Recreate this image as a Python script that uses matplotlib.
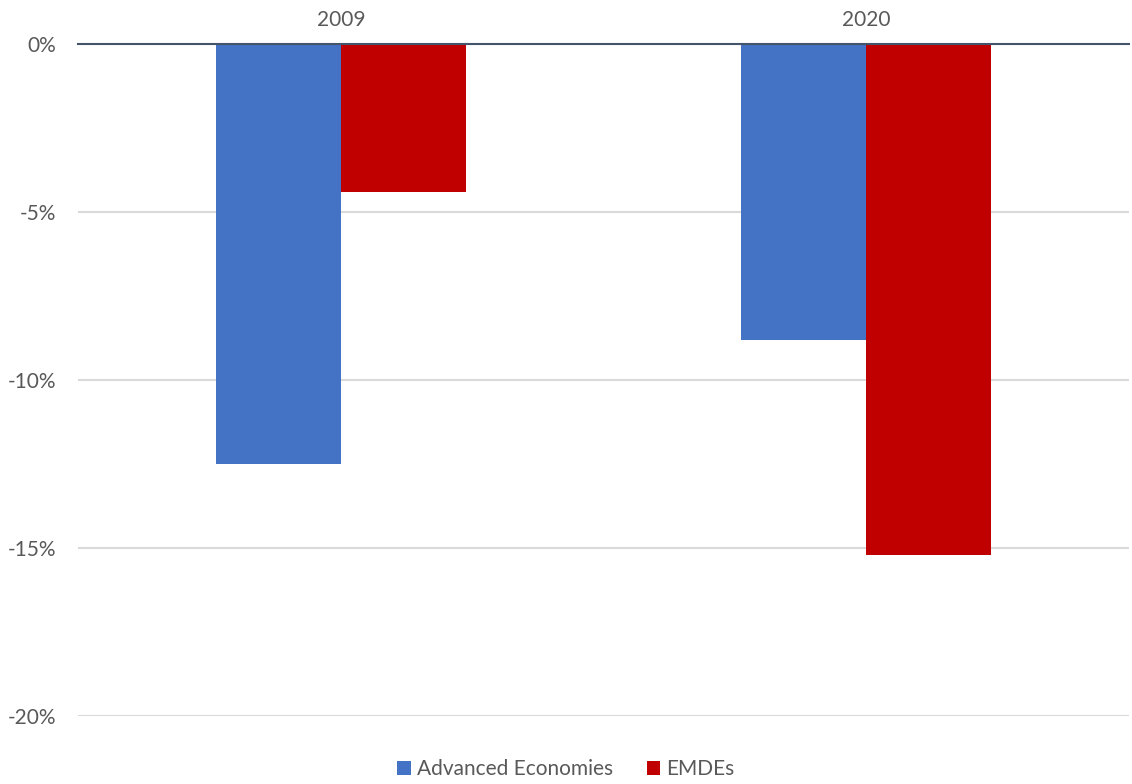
import matplotlib.pyplot as plt
import numpy as np

# Data
years = ["2009", "2020"]
advanced = [-12.5, -8.8]
emdes = [-4.4, -15.2]
yticks = [0, -5, -10, -15, -20]

plt.rcParams["font.family"] = ["Lato", "DejaVu Sans"]

fig = plt.figure(figsize=(11.32, 7.84), dpi=100)
ax = fig.add_axes([78 / 1132, 68 / 784, 1051 / 1132, 672 / 784])

x = np.arange(len(years))
w = 0.238
ax.bar(x - w / 2, advanced, width=w, color="#4472C4", label="Advanced Economies")
ax.bar(x + w / 2, emdes, width=w, color="#C00000", label="EMDEs")

ax.set_xlim(-0.5, 1.5)
ax.set_ylim(-20, 0)
ax.set_yticks(yticks)
ax.set_yticklabels([f"{t}%" for t in yticks])

# category labels on top
ax.xaxis.tick_top()
ax.set_xticks(x)
ax.set_xticklabels(years)
ax.tick_params(axis="x", length=0, pad=10, labelsize=15, labelcolor="#595959")
ax.tick_params(axis="y", length=0, pad=16, labelsize=15, labelcolor="#595959")

# grid lines and zero axis
ax.grid(axis="y", color="#D9D9D9", linewidth=1.5)
ax.set_axisbelow(True)
for s in ["left", "right", "bottom"]:
    ax.spines[s].set_visible(False)
ax.spines["top"].set_color("#44546A")
ax.spines["top"].set_linewidth(1.5)

fig.legend(loc="center", bbox_to_anchor=(0.5, 0.019), ncol=2, frameon=False,
           fontsize=15, labelcolor="#595959", handlelength=0.65, handleheight=0.65,
           handletextpad=0.3, columnspacing=1.6)

plt.savefig("out.png", dpi=100)
